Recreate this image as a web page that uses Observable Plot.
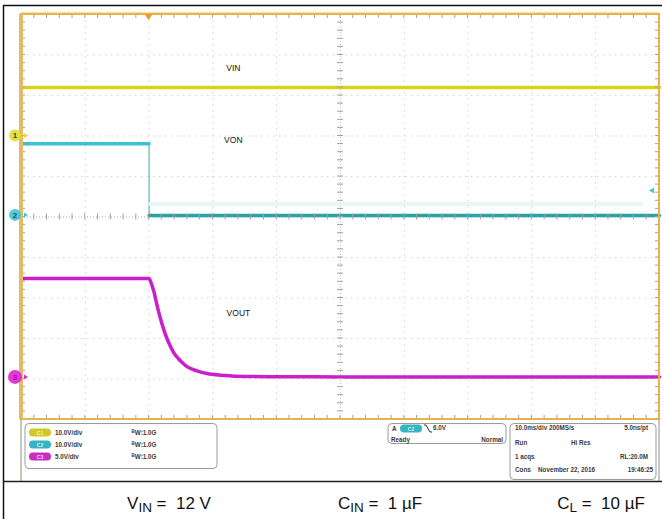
<!DOCTYPE html>
<html>
<head>
<meta charset="utf-8">
<script src="https://cdn.jsdelivr.net/npm/d3@7"></script>
<script src="https://cdn.jsdelivr.net/npm/@observablehq/plot@0.6"></script>
<style>
  html, body { margin: 0; padding: 0; background: #fff; }
  svg { display: block; }
</style>
</head>
<body>
<div id="scope"></div>
<script>
// ---- Acquisition settings -------------------------------------------------
// 10 ms/div horizontally, trigger placed two divisions from the left edge.
const timeDomain = [-20, 80];          // ms
const divDomain = [-5, 5];             // vertical divisions
const gridTimes = [-10, 0, 10, 20, 40, 50, 60, 70];
const gridDivs = [-4, -3, -2, -1, 1, 2, 3, 4];
const centerTime = 30;

// Channels: name, volts per division, ground position (divisions)
const channelNames = ["VIN", "VON", "VOUT"];
const voltsPerDiv = [10, 10, 5];
const groundDiv = [2, 0.04, -3.96];
const triggerLevel = 6.0;              // V, falling edge on channel 2

// ---- Waveforms (time in ms, value in volts) -------------------------------
const vinTime = [-20, 80];
const vinVolts = [12, 12];

const vonTime = [-20, 0, 0, 80];
const vonVolts = [17.7, 17.7, 0, 0];

const voutTime = [-20, 0, 0.3, 0.75, 1.25, 1.8, 2.3, 2.8, 3.3, 3.9, 4.6, 5.3, 6.0, 7.5, 9.1, 11.2, 13, 15.4, 20, 30, 80];
const voutVolts = [12.2, 12.2, 11.7, 10.6, 8.9, 7.2, 5.9, 4.8, 3.9, 3.0, 2.3, 1.75, 1.3, 0.8, 0.47, 0.27, 0.18, 0.12, 0.08, 0.06, 0.06];

// ---- Readout text ---------------------------------------------------------
const channelScaleText = ["10.0V/div", "10.0V/div", "5.0V/div"];
const bandwidthText = "1.0G";
const triggerText = ["A", "6.0V", "Ready", "Normal"];
const acqRows = [
  ["10.0ms/div 200MS/s", "", "5.0ns/pt"],
  ["Run", "Hi Res", ""],
  ["1 acqs", "", "RL:20.0M"],
  ["Cons", "November 22, 2016", "19:46:25"]
];
const captions = [
  {main: "V", sub: "IN", rest: " =  12 V"},
  {main: "C", sub: "IN", rest: " =  1 \u00b5F"},
  {main: "C", sub: "L", rest: " =  10 \u00b5F"}
];

const colors = {vin: "#d9d11b", vonHigh: "#3cc0d2", vonLow: "#2aa3a6", vout: "#cb1fcb"};

// Convert a trace into screen divisions for its channel
const toRows = (times, volts, ch) =>
  times.map((t, i) => ({t, v: volts[i], div: groundDiv[ch] + volts[i] / voltsPerDiv[ch]}));

const vin = toRows(vinTime, vinVolts, 0);
const von = toRows(vonTime, vonVolts, 1);
const vout = toRows(voutTime, voutVolts, 2);

const chart = Plot.plot({
  width: 662,
  height: 519,
  marginLeft: 21,
  marginRight: 3,
  marginTop: 14,
  marginBottom: 100,
  x: {domain: timeDomain, axis: null},
  y: {domain: divDomain, axis: null},
  style: {background: "#ffffff", fontFamily: "Liberation Sans, Arial, sans-serif"},
  marks: [
    // dotted graticule
    Plot.ruleX(gridTimes, {stroke: "#d2d2d2", strokeWidth: 1, strokeDasharray: "1.5,4.5"}),
    Plot.ruleY(gridDivs, {stroke: "#d2d2d2", strokeWidth: 1, strokeDasharray: "1.5,4.5"}),
    // centre crosshair
    Plot.ruleX([centerTime], {stroke: "#c4c4c4", strokeWidth: 1, strokeDasharray: "1,2"}),
    Plot.ruleY([0], {stroke: "#a8a8a8", strokeWidth: 1, strokeDasharray: "1,2"}),
    // traces
    Plot.line(vin, {x: "t", y: "div", stroke: colors.vin, strokeWidth: 3.5}),
    Plot.line(von.slice(0, 2), {x: "t", y: "div", stroke: colors.vonHigh, strokeWidth: 3.5}),
    Plot.line(von.slice(1, 3), {x: "t", y: "div", stroke: "#63b9bf", strokeWidth: 1.2}),
    Plot.line(von.slice(2), {x: "t", y: "div", stroke: colors.vonLow, strokeWidth: 3.5}),
    Plot.line(vout, {x: "t", y: "div", stroke: colors.vout, strokeWidth: 3.5, curve: "monotone-x"}),
    // trace names
    Plot.text([channelNames[0]], {x: 13.2, y: 3.67, text: d => d, fontSize: 8.5, fill: "#111"}),
    Plot.text([channelNames[1]], {x: 13.2, y: 1.89, text: d => d, fontSize: 8.5, fill: "#111"}),
    Plot.text([channelNames[2]], {x: 14.0, y: -2.38, text: d => d, fontSize: 8.5, fill: "#111"})
  ]
});

document.getElementById("scope").appendChild(chart);

// ---- Screen furniture drawn with the chart's own scales --------------------
const X = chart.scale("x"), Y = chart.scale("y");
const px = t => X.apply(t), py = d => Y.apply(d);
const svg = d3.select(chart);
const xLeft = px(timeDomain[0]), xRight = px(timeDomain[1]);
const yTop = py(divDomain[1]), yBottom = py(divDomain[0]);
const xc = px(centerTime), yc = py(0);

const furniture = svg.append("g");

// minor tick marks on the frame and on the centre crosshair
const minorT = d3.range(timeDomain[0], timeDomain[1] + 0.001, 2);
const minorD = d3.range(divDomain[0], divDomain[1] + 0.001, 0.2);
const tickG = furniture.append("g").attr("stroke", "#a0a0a0").attr("stroke-width", 1);
minorT.forEach(t => {
  const x = px(t);
  tickG.append("line").attr("x1", x).attr("x2", x).attr("y1", yTop).attr("y2", yTop + 4);
  tickG.append("line").attr("x1", x).attr("x2", x).attr("y1", yBottom).attr("y2", yBottom - 4);
  tickG.append("line").attr("x1", x).attr("x2", x).attr("y1", yc - 3).attr("y2", yc + 3);
});
minorD.forEach(d => {
  const y = py(d);
  tickG.append("line").attr("x1", xLeft).attr("x2", xLeft + 4).attr("y1", y).attr("y2", y);
  tickG.append("line").attr("x1", xRight).attr("x2", xRight - 4).attr("y1", y).attr("y2", y);
  tickG.append("line").attr("x1", xc - 3).attr("x2", xc + 3).attr("y1", y).attr("y2", y);
});

// faint persistence band above the low VON level
furniture.append("rect")
  .attr("x", px(0)).attr("width", px(77.5) - px(0))
  .attr("y", py(groundDiv[1] + 0.32)).attr("height", 4)
  .attr("fill", "#e7f7f9");

// orange screen frame
furniture.append("line").attr("x1", xLeft).attr("x2", xRight).attr("y1", yTop - 1.5).attr("y2", yTop - 1.5)
  .attr("stroke", "#f6e6a0").attr("stroke-width", 1.5);
furniture.append("rect").attr("x", xLeft).attr("y", yTop).attr("width", xRight - xLeft).attr("height", yBottom - yTop)
  .attr("fill", "none").attr("stroke", "#e8b24e").attr("stroke-width", 2);
furniture.append("line").attr("x1", xLeft).attr("x2", xLeft).attr("y1", yTop).attr("y2", yBottom)
  .attr("stroke", "#e5b965").attr("stroke-width", 4);

// trigger position marker on the top edge
furniture.append("path")
  .attr("d", `M${px(0) - 4},${yTop} L${px(0) + 4},${yTop} L${px(0)},${yTop + 6} Z`)
  .attr("fill", "#e89a2a");

// trigger level marker on the right edge
const tl = py(groundDiv[1] + triggerLevel / voltsPerDiv[1]);
furniture.append("path")
  .attr("d", `M${xRight - 10},${tl} L${xRight - 5},${tl - 3} L${xRight - 5},${tl + 3} Z`)
  .attr("fill", "#4cc7d6");

// channel ground markers on the left
const markerColors = ["#e2dc2a", "#3ec6d6", "#e022d2"];
const markerR = [6, 6, 7];
const markerLabel = ["1", "2", "3"];
groundDiv.forEach((g, i) => {
  const y = py(g);
  furniture.append("circle").attr("cx", 15).attr("cy", y).attr("r", markerR[i])
    .attr("fill", markerColors[i]).attr("opacity", 0.9);
  furniture.append("text").attr("x", 15).attr("y", y + 2.8).attr("text-anchor", "middle")
    .attr("font-size", 8).attr("font-weight", "bold").attr("fill", i === 2 ? "#9a108f" : "#444")
    .text(markerLabel[i]);
  furniture.append("path").attr("d", `M24,${y - 2.5} L28,${y} L24,${y + 2.5} Z`).attr("fill", markerColors[i]);
});

// ---- Readout panel --------------------------------------------------------
const panel = svg.append("g")
  .attr("font-family", "Liberation Sans, Arial, sans-serif")
  .attr("font-size", 6.3).attr("font-weight", "bold").attr("fill", "#3a3a3a");

// frame continuing round the panel
panel.append("line").attr("x1", xLeft).attr("x2", xLeft).attr("y1", yBottom).attr("y2", 481)
  .attr("stroke", "#8f8f7a").attr("stroke-width", 1);
panel.append("line").attr("x1", xRight).attr("x2", xRight).attr("y1", yBottom).attr("y2", 481)
  .attr("stroke", "#8f8f8f").attr("stroke-width", 1);
panel.append("line").attr("x1", 3).attr("x2", 662).attr("y1", 481.5).attr("y2", 481.5)
  .attr("stroke", "#222").attr("stroke-width", 1.5);

const box = (x, y, w, h) => panel.append("rect").attr("x", x).attr("y", y).attr("width", w).attr("height", h)
  .attr("rx", 4).attr("fill", "#fff").attr("stroke", "#9b9b9b").attr("stroke-width", 1);
const pill = (x, y, color, text) => {
  panel.append("rect").attr("x", x).attr("y", y - 4).attr("width", 22).attr("height", 8).attr("rx", 4)
    .attr("fill", color);
  panel.append("text").attr("x", x + 11).attr("y", y + 2).attr("text-anchor", "middle")
    .attr("font-size", 5).attr("fill", "#ffffff").attr("opacity", 0.8).text(text);
};
const label = (x, y, s, anchor = "start") => panel.append("text").attr("x", x).attr("y", y + 2.2)
  .attr("text-anchor", anchor).text(s);

// vertical settings
box(25, 423.5, 192, 45);
const pillColors = ["#cfc923", "#35b4c2", "#c62ec4"];
[432.5, 444.5, 456.5].forEach((y, i) => {
  pill(29, y, pillColors[i], "C" + (i + 1));
  label(55, y, channelScaleText[i]);
  const bw = panel.append("text").attr("x", 144).attr("y", y + 2.2);
  bw.append("tspan").attr("font-size", 4.5).attr("dy", -2).text("B");
  bw.append("tspan").attr("dy", 2).text("W:" + bandwidthText);
});

// trigger settings
box(388, 423.5, 118, 20);
label(392, 428.5, triggerText[0]);
pill(400, 428.5, "#35b4c2", "C2");
panel.append("path").attr("d", "M424,425 L426,425 L430,432 L432,432")
  .attr("fill", "none").attr("stroke", "#333").attr("stroke-width", 1);
label(433, 428, triggerText[1]);
label(391, 440, triggerText[2]);
label(503, 440, triggerText[3], "end");

// acquisition settings
box(510, 423.5, 146, 56);
[428, 442.5, 456.5, 470].forEach((y, i) => {
  const [a, b, c] = acqRows[i];
  label(515, y, a);
  if (b) label(i === 3 ? 538 : 571, y, b);
  if (c) label(i === 3 ? 653 : 648, y, c, "end");
});

// ---- Component captions ---------------------------------------------------
const capX = [169, 380, 601];
captions.forEach((c, i) => {
  const t = svg.append("text").attr("x", capX[i]).attr("y", 509).attr("text-anchor", "middle")
    .attr("font-family", "Liberation Sans, Arial, sans-serif").attr("font-size", 17).attr("fill", "#111");
  t.append("tspan").text(c.main);
  t.append("tspan").attr("font-size", 13.5).attr("dy", 3).text(c.sub);
  t.append("tspan").attr("dy", -3).text(c.rest.replace(/ /g, "\u00a0"));
});

// outer border
svg.append("path").attr("d", "M3.5,519 L3.5,5.5 L662,5.5").attr("fill", "none")
  .attr("stroke", "#111").attr("stroke-width", 1.5);
</script>
</body>
</html>
